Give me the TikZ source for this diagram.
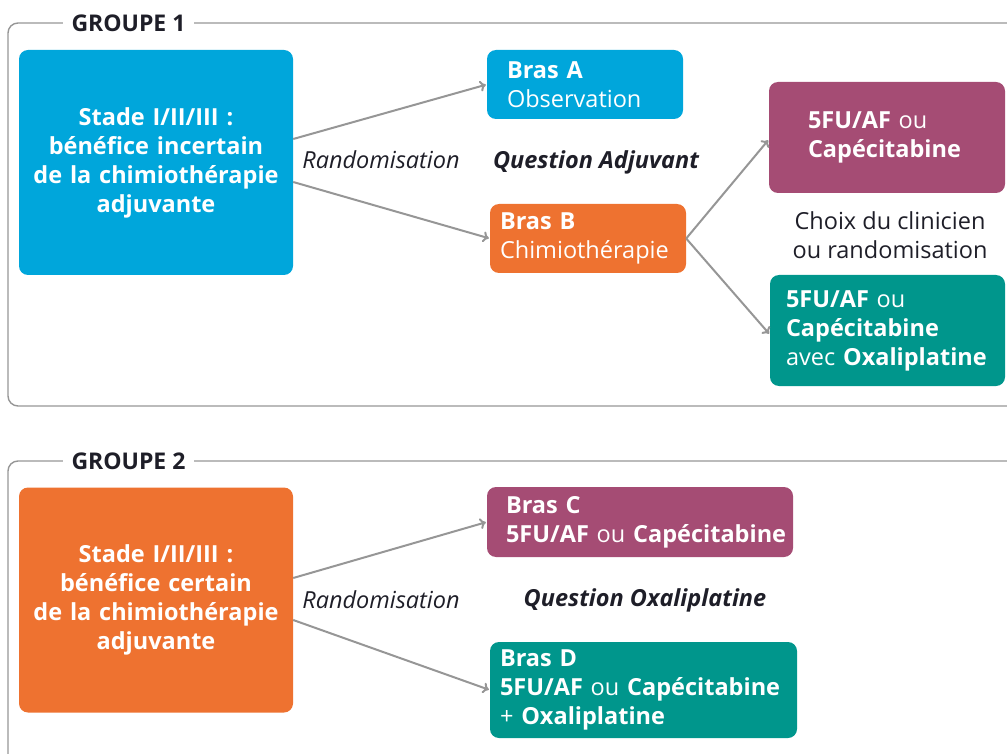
\documentclass[tikz,border=0pt]{standalone}
\usepackage{fontspec}
\setmainfont{Open Sans}
\usetikzlibrary{arrows.meta}
\definecolor{cblue}{RGB}{0,166,219}
\definecolor{corange}{RGB}{238,114,48}
\definecolor{cpurple}{RGB}{165,76,116}
\definecolor{cteal}{RGB}{0,150,140}
\definecolor{cgray}{RGB}{150,150,150}
\definecolor{ctext}{RGB}{30,30,40}
\tikzset{
  box/.style={rounded corners=9pt, draw=none, text=white, inner ysep=0pt,
    font=\fontsize{23.5}{29}\selectfont, align=left},
  bigbox/.style={box, align=center, minimum width=274pt, minimum height=225pt, text width=264pt, inner xsep=5pt},
  frame/.style={draw=cgray, line width=1.4pt, rounded corners=10pt},
  grp/.style={fill=white, inner xsep=9pt, font=\fontsize{23}{26}\selectfont\bfseries, text=ctext},
  lbl/.style={font=\fontsize{23.5}{29}\selectfont, text=ctext},
  arr/.style={draw=cgray, line width=2pt, -{To[length=6pt,width=11pt]}, shorten >=1pt},
}
\begin{document}
\begin{tikzpicture}[x=1pt,y=-1pt]
\useasboundingbox (0,0) rectangle (1007,754);
\clip (0,0) rectangle (1007,754);
% frames
\draw[frame] (8,23) rectangle (1030,406);
\draw[frame] (8,461) rectangle (1030,770);
\node[grp] (g1) at (128.5,23) {GROUPE 1};
\node[grp] (g2) at (128.5,461) {GROUPE 2};
% group 1
\node[bigbox, fill=cblue] (s1) at (156,162.5) {\bfseries Stade I/II/III :\\\bfseries bénéfice incertain\\\bfseries de la chimiothérapie\\\bfseries adjuvante};
\node[box, fill=cblue, minimum height=69pt, text width=156pt, inner xsep=20pt] (a) at (585,84.5) {\mbox{\textbf{Bras A}}\\\mbox{Observation}};
\node[box, fill=corange, minimum height=69pt, text width=176pt, inner xsep=10pt] (b) at (588,238.5) {\mbox{\textbf{Bras B}}\\\mbox{Chimiothérapie}};
\node[box, fill=cpurple, minimum height=111pt, text width=158pt, inner xsep=39pt] (p) at (887,137.5) {\mbox{\textbf{5FU/AF} ou}\\\mbox{\textbf{Capécitabine}}};
\node[box, fill=cteal, minimum height=111pt, text width=203pt, inner xsep=16pt] (t) at (887.5,330.5) {\mbox{\textbf{5FU/AF} ou}\\\mbox{\textbf{Capécitabine}}\\\mbox{avec \textbf{Oxaliplatine}}};
\node[lbl, font=\fontsize{23.5}{29}\selectfont\itshape] (r1) at (381,160) {Randomisation};
\node[lbl, font=\fontsize{23.5}{29}\selectfont\bfseries\itshape] (q1) at (596,162) {Question Adjuvant};
\node[lbl, align=center] (ch) at (890,235.5) {Choix du clinicien\\ou randomisation};
\draw[arr] ([yshift=23.5pt]s1.east) -- (a.west);
\draw[arr] ([yshift=-19.5pt]s1.east) -- (b.west);
\draw[arr] (b.east) -- ([yshift=-2pt]p.west);
\draw[arr] (b.east) -- ([yshift=-4pt]t.west);
% group 2
\node[bigbox, fill=corange] (s2) at (156,600) {\bfseries Stade I/II/III :\\\bfseries bénéfice certain\\\bfseries de la chimiothérapie\\\bfseries adjuvante};
\node[box, fill=cpurple, minimum height=70pt, text width=268pt, inner xsep=19pt] (c) at (640,522) {\mbox{\textbf{Bras C}}\\\mbox{\textbf{5FU/AF} ou \textbf{Capécitabine}}};
\node[box, fill=cteal, minimum height=96pt, text width=287pt, inner xsep=10pt] (d) at (643.5,690) {\mbox{\textbf{Bras D}}\\\mbox{\textbf{5FU/AF} ou \textbf{Capécitabine}}\\\mbox{+ \textbf{Oxaliplatine}}};
\node[lbl, font=\fontsize{23.5}{29}\selectfont\itshape] (r2) at (381,600) {Randomisation};
\node[lbl, font=\fontsize{23.5}{29}\selectfont\bfseries\itshape] (q2) at (645,600) {Question Oxaliplatine};
\draw[arr] ([yshift=22pt]s2.east) -- (c.west);
\draw[arr] ([yshift=-20pt]s2.east) -- (d.west);
\end{tikzpicture}
\end{document}
